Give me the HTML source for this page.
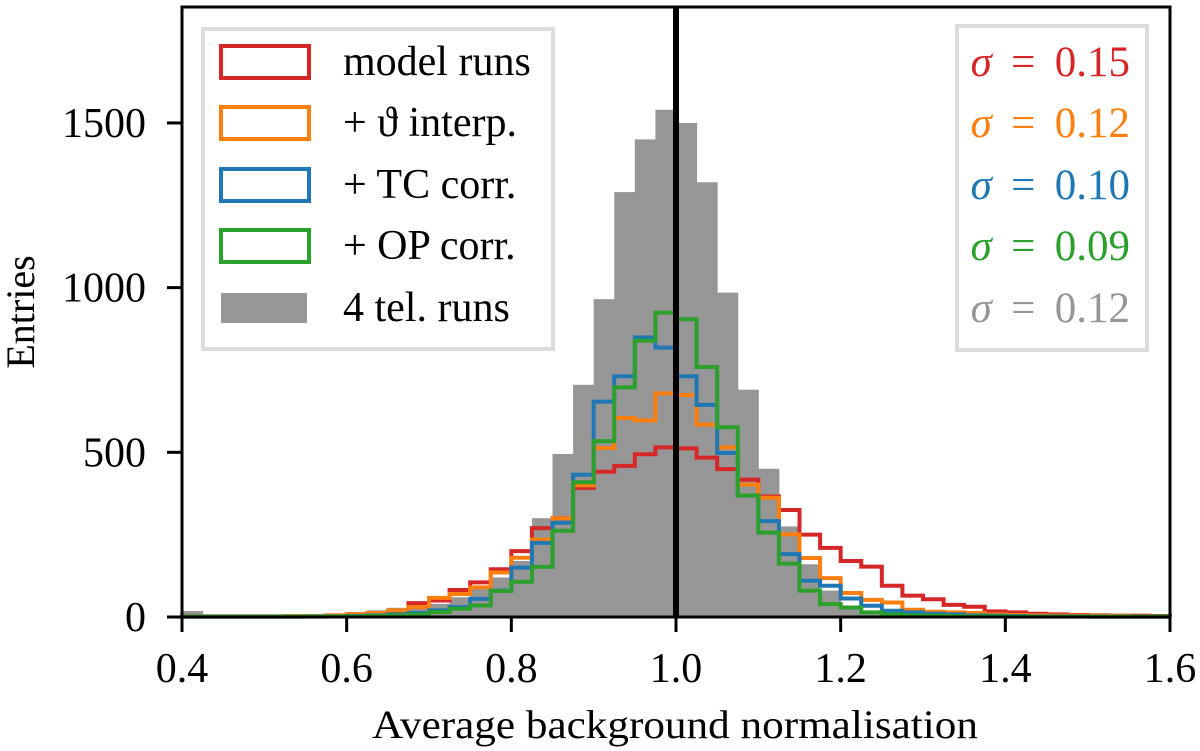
<!DOCTYPE html>
<html><head><meta charset="utf-8"><style>
html,body{margin:0;padding:0;background:#fff;}
svg{display:block;font-family:"Liberation Serif",serif;}
</style></head><body>
<svg id="chart" width="1200" height="751" viewBox="0 0 1200 751" xmlns="http://www.w3.org/2000/svg">
<g id="plot"></g>
<g id="axes"></g>
<g id="legend"></g>
<g id="sigma"></g>
</svg>
<script>
const binStart = 0.4;
const binWidth = 0.025;
const gray = [18,5,5,5,5,6,7,10,15,20, 28,45,40,60,90,120,170,300,495,705, 965,1290,1450,1540,1500,1320,985,690,450,275, 160,80,34,14,5,3,2,2,1,1, 1,1,0,0,0,0,0,0];
const red = [2,2,2,2,2,3,3,5,8,12, 16,42,50,82,105,145,200,270,300,392, 441,459,494,515,512,484,449,417,366,325, 250,210,170,153,95,65,54,37,31,17, 14,10,8,6,5,4,4,3];
const orange = [2,2,2,2,2,3,3,5,8,12, 20,30,58,70,90,135,180,235,300,400, 513,604,597,679,674,584,515,402,362,251, 179,118,73,52,44,22,16,14,12,8, 6,5,4,4,3,3,2,2];
const blue = [1,1,1,1,1,1,2,2,3,5, 8,12,20,30,55,80,150,225,286,432, 654,731,849,818,731,644,498,369,291,191, 110,95,56,34,19,14,10,8,5,4, 3,2,2,2,1,1,1,1];
const green = [1,1,1,1,1,1,1,2,2,3, 5,8,15,25,35,79,107,152,262,409, 534,697,839,924,904,759,576,369,256,162, 80,39,29,14,8,5,4,3,2,2, 1,1,1,1,1,1,1,1];
const xTicks = [0.4,0.6,0.8,1.0,1.2,1.4,1.6];
const xTickLabels = ["0.4","0.6","0.8","1.0","1.2","1.4","1.6"];
const yTicks = [0,500,1000,1500];
const yTickLabels = ["0","500","1000","1500"];
const legendLabels = ["model runs","+ \u03D1 interp.","+ TC corr.","+ OP corr.","4 tel. runs"];
const sigmaValues = ["0.15","0.12","0.10","0.09","0.12"];

const NS="http://www.w3.org/2000/svg";
const L=182,R=1170,T=7,B=617;
const xMin=0.4,xMax=1.6,yMin=0,yMax=1852;
function X(v){return L+(v-xMin)/(xMax-xMin)*(R-L);}
function Y(v){return B-(v-yMin)/(yMax-yMin)*(B-T);}
function mk(tag,attrs,parent){const e=document.createElementNS(NS,tag);for(const k in attrs)e.setAttribute(k,attrs[k]);parent.appendChild(e);return e;}
const plot=document.getElementById('plot'),axes=document.getElementById('axes');
const cols={red:'#d62728',orange:'#ff7f0e',blue:'#1f77b4',green:'#2ca02c',gray:'#969696'};

gray.forEach((v,i)=>{
  const x0=X(binStart+i*binWidth),x1=X(binStart+(i+1)*binWidth);
  const r=mk('rect',{x:x0,y:Y(v),width:x1-x0+0.5,height:B-Y(v),fill:cols.gray},plot);
  
  
});
function step(arr,color,name){
  let d='M'+X(binStart)+','+Y(0);
  arr.forEach((v,i)=>{d+=' L'+X(binStart+i*binWidth)+','+Y(v)+' L'+X(binStart+(i+1)*binWidth)+','+Y(v);});
  d+=' L'+X(binStart+arr.length*binWidth)+','+Y(0);
  const p=mk('path',{d:d,fill:'none',stroke:color,'stroke-width':4,'stroke-linejoin':'miter'},plot);
  
  
}
step(red,cols.red,'model-runs-line');
step(orange,cols.orange,'theta-interp-line');
step(blue,cols.blue,'tc-corr-line');
step(green,cols.green,'op-corr-line');
const vl=mk('line',{x1:X(1.0),x2:X(1.0),y1:T,y2:B,stroke:'#000','stroke-width':6},plot);



const frame=mk('rect',{x:L,y:T,width:R-L,height:B-T,fill:'none',stroke:'#000','stroke-width':3},axes);


xTicks.forEach((v,i)=>{
  const t=mk('line',{x1:X(v),x2:X(v),y1:B,y2:B+15,stroke:'#000','stroke-width':3},axes);
  
  
  const tx=mk('text',{x:X(v),y:682,'font-size':42,'text-anchor':'middle',fill:'#000'},axes);
  tx.textContent=xTickLabels[i];
  
  
});
yTicks.forEach((v,i)=>{
  const t=mk('line',{x1:L-15,x2:L,y1:Y(v),y2:Y(v),stroke:'#000','stroke-width':3},axes);
  
  
  const tx=mk('text',{x:L-36,y:Y(v)+14,'font-size':42,'text-anchor':'end',fill:'#000'},axes);
  tx.textContent=yTickLabels[i];
  
  
});
const xl=mk('text',{x:675,y:738,'font-size':40,'text-anchor':'middle',fill:'#000',textLength:606,lengthAdjust:'spacingAndGlyphs'},axes);
xl.textContent='Average background normalisation';


const yl=mk('text',{x:0,y:0,'font-size':40,'text-anchor':'middle',fill:'#000',transform:'translate(34,312) rotate(-90)'},axes);
yl.textContent='Entries';



const lg=document.getElementById('legend');
const lb=mk('rect',{x:203,y:29,width:350,height:320,fill:'#fff',stroke:'#dcdcdc','stroke-width':4},lg);


const lcols=[cols.red,cols.orange,cols.blue,cols.green,cols.gray];
const rowY=[62,123,185,246,308];
legendLabels.forEach((s,i)=>{
  let p;
  if(i<4) p=mk('rect',{x:221,y:rowY[i]-16,width:88,height:32,fill:'none',stroke:lcols[i],'stroke-width':4},lg);
  else p=mk('rect',{x:221,y:rowY[i]-15,width:86,height:30,fill:lcols[i]},lg);
  
  
  const t=mk('text',{x:343,y:rowY[i]+13,'font-size':42,fill:'#000'},lg);
  t.textContent=s;
  
  
});
const sg=document.getElementById('sigma');
const sb=mk('rect',{x:957,y:26,width:190,height:324,fill:'#fff',stroke:'#dcdcdc','stroke-width':4},sg);


sigmaValues.forEach((s,i)=>{
  const t=mk('text',{x:1130,y:rowY[i]+14,'font-size':43,fill:lcols[i],'text-anchor':'end'},sg);
  t.innerHTML='<tspan font-style="italic">\u03C3</tspan>\u2009 = \u2009'+s;
  
  
});
</script>
</body></html>
